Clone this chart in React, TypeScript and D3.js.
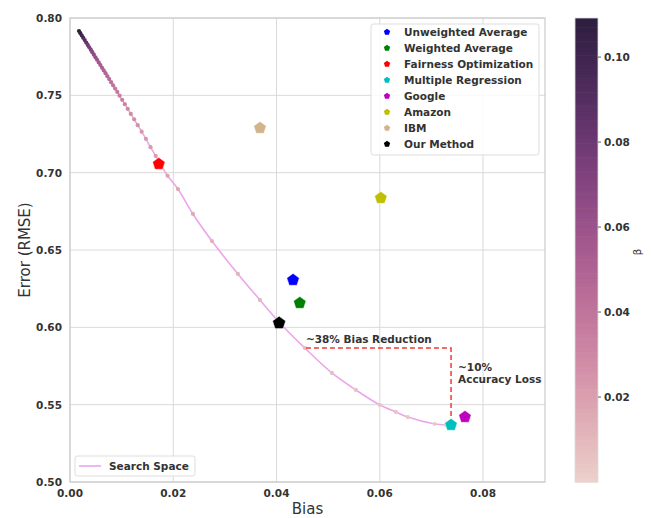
import React from "react";
import * as d3 from "d3";

const xTicks = [0.0, 0.02, 0.04, 0.06, 0.08];
const yTicks = [0.5, 0.55, 0.6, 0.65, 0.7, 0.75, 0.8];
const cbTicks = [0.02, 0.04, 0.06, 0.08, 0.1];

const methodNames = [
  "Unweighted Average",
  "Weighted Average",
  "Fairness Optimization",
  "Multiple Regression",
  "Google",
  "Amazon",
  "IBM",
  "Our Method",
];
const methodBias = [0.0432, 0.0445, 0.0172, 0.0738, 0.0765, 0.0602, 0.0368, 0.0405];
const methodError = [0.6306, 0.6157, 0.7056, 0.5369, 0.542, 0.6836, 0.7289, 0.6028];
const methodColors = ["#0000ff", "#008000", "#ff0000", "#00bfbf", "#bf00bf", "#bfbf00", "#d2b48c", "#000000"];

const ssBias = [
  0.00174, 0.002, 0.00228, 0.00256, 0.00285, 0.00314, 0.00343, 0.00372, 0.00402, 0.00432,
  0.00462, 0.00493, 0.00524, 0.00556, 0.00588, 0.00621, 0.00654, 0.00688, 0.00723, 0.00759,
  0.00796, 0.00834, 0.00874, 0.00916, 0.0096, 0.0101, 0.01062, 0.01118, 0.01178, 0.01242,
  0.01312, 0.01388, 0.0147, 0.0156, 0.0166, 0.0177, 0.0189, 0.02091, 0.02381, 0.02749,
  0.03252, 0.03678, 0.04046, 0.04549, 0.05072, 0.05536, 0.06001, 0.0631, 0.06543, 0.07065,
  0.07278,
];
const ssError = [
  0.7916, 0.7902, 0.7887, 0.7872, 0.7857, 0.7841, 0.7826, 0.7811, 0.7795, 0.7779,
  0.7763, 0.7746, 0.773, 0.7713, 0.7696, 0.7678, 0.7661, 0.7643, 0.7624, 0.7605,
  0.7585, 0.7565, 0.7544, 0.7522, 0.7498, 0.7471, 0.7443, 0.7413, 0.738, 0.7345,
  0.7307, 0.7265, 0.7219, 0.7165, 0.7108, 0.7045, 0.698, 0.6894, 0.6733, 0.6558,
  0.6345, 0.6177, 0.6035, 0.5866, 0.5705, 0.5595, 0.5498, 0.5453, 0.542, 0.5375,
  0.5369,
];
const ssBeta = [
  0.109, 0.105, 0.1, 0.095, 0.09, 0.085, 0.08, 0.076, 0.072, 0.068,
  0.065, 0.062, 0.059, 0.056, 0.054, 0.052, 0.05, 0.048, 0.046, 0.044,
  0.042, 0.04, 0.038, 0.037, 0.035, 0.033, 0.032, 0.03, 0.029, 0.027,
  0.026, 0.024, 0.023, 0.022, 0.021, 0.02, 0.019, 0.017, 0.015, 0.013,
  0.011, 0.01, 0.009, 0.008, 0.007, 0.006, 0.005, 0.0045, 0.004, 0.003,
  0.002,
];

const cmapStops = ["#edd1cb", "#dca3b0", "#c67a9d", "#a85a8f", "#7f417f", "#512c60", "#2d1e3e"];

const FONT = "'DejaVu Sans', sans-serif";
const TXT = "#333333";

function pentagon(cx: number, cy: number, r: number) {
  const pts: [number, number][] = [];
  for (let i = 0; i < 5; i++) {
    const a = -Math.PI / 2 + (i * 2 * Math.PI) / 5;
    pts.push([cx + r * Math.cos(a), cy + r * Math.sin(a)]);
  }
  return "M" + pts.map((p) => p.join(",")).join("L") + "Z";
}

export default function App() {
  const L = 70, R = 545, T = 18, B = 482;
  const x = d3.scaleLinear().domain([0, 0.092]).range([L, R]);
  const y = d3.scaleLinear().domain([0.5, 0.8]).range([B, T]);
  const cbDomain: [number, number] = [0.0, 0.1092];
  const cbY = d3.scaleLinear().domain(cbDomain).range([B, T]);
  const cInterp = d3.interpolateRgbBasis(cmapStops);
  const color = (v: number) => cInterp((v - cbDomain[0]) / (cbDomain[1] - cbDomain[0]));

  const ss = ssBias.map((b, i) => ({ b, e: ssError[i], beta: ssBeta[i] }));
  const line = d3
    .line<{ b: number; e: number }>()
    .x((d) => x(d.b))
    .y((d) => y(d.e))
    .curve(d3.curveCatmullRom);

  const cbX0 = 575, cbX1 = 598;
  const nSteps = 100;
  const steps = d3.range(nSteps).map((i) => cbDomain[0] + ((i + 0.5) * (cbDomain[1] - cbDomain[0])) / nSteps);
  const stepH = (B - T) / nSteps;

  const ourIdx = 7;
  const mrIdx = 3;
  const annY = 0.5866;

  return (
    <svg width={651} height={518} style={{ display: "block", position: "absolute", left: 0, top: 0 }}>
      <rect x={0} y={0} width={651} height={518} fill="#fff" />
      {xTicks.map((t) => (
        <line key={"gx" + t} x1={x(t)} x2={x(t)} y1={T} y2={B} stroke="#d9d9d9" strokeWidth={1} />
      ))}
      {yTicks.map((t) => (
        <line key={"gy" + t} x1={L} x2={R} y1={y(t)} y2={y(t)} stroke="#d9d9d9" strokeWidth={1} />
      ))}
      <rect x={L} y={T} width={R - L} height={B - T} fill="none" stroke="#cccccc" strokeWidth={1.2} />

      <path d={line(ss) || ""} fill="none" stroke="#eba6ea" strokeWidth={1.6} />
      {ss.map((d, i) => (
        <circle key={"ss" + i} cx={x(d.b)} cy={y(d.e)} r={2.1} fill={color(d.beta)} />
      ))}

      <path
        d={`M${x(0.0457)},${y(annY)}L${x(methodBias[mrIdx])},${y(annY)}L${x(methodBias[mrIdx])},${y(methodError[mrIdx])}`}
        fill="none"
        stroke="#f03a3a"
        strokeWidth={1.5}
        strokeDasharray="5,3"
      />

      {methodNames.map((n, i) => (
        <path
          key={"m" + n}
          d={pentagon(x(methodBias[i]), y(methodError[i]), i === ourIdx ? 6.8 : 6.5)}
          fill={methodColors[i]}
          stroke="#ffffff"
          strokeWidth={0.4}
        />
      ))}

      <text x={x(0.0457)} y={y(annY) - 5} fontFamily={FONT} fontSize={10.5} fontWeight="bold" fill={TXT}>
        ~38% Bias Reduction
      </text>
      <text x={x(methodBias[mrIdx]) + 7} y={y(0.5715)} fontFamily={FONT} fontSize={10.5} fontWeight="bold" fill={TXT}>
        ~10%
      </text>
      <text x={x(methodBias[mrIdx]) + 7} y={y(0.5637)} fontFamily={FONT} fontSize={10.5} fontWeight="bold" fill={TXT}>
        Accuracy Loss
      </text>

      {xTicks.map((t) => (
        <text key={"tx" + t} x={x(t)} y={B + 15} textAnchor="middle" fontFamily={FONT} fontSize={10.5} fontWeight="bold" fill={TXT}>
          {t.toFixed(2)}
        </text>
      ))}
      {yTicks.map((t) => (
        <text key={"ty" + t} x={L - 8} y={y(t) + 4} textAnchor="end" fontFamily={FONT} fontSize={10.5} fontWeight="bold" fill={TXT}>
          {t.toFixed(2)}
        </text>
      ))}
      <text x={(L + R) / 2} y={514} textAnchor="middle" fontFamily={FONT} fontSize={15} fill={TXT}>
        Bias
      </text>
      <text
        transform={`translate(30,${(T + B) / 2}) rotate(-90)`}
        textAnchor="middle"
        fontFamily={FONT}
        fontSize={15}
        fill={TXT}
      >
        Error (RMSE)
      </text>

      <rect x={371} y={24} width={168} height={131} rx={2.5} fill="#ffffff" fillOpacity={0.85} stroke="#dddddd" strokeWidth={1} />
      {methodNames.map((n, i) => (
        <g key={"lg" + n}>
          <path d={pentagon(387, 32 + i * 16, 3.3)} fill={methodColors[i]} />
          <text x={404} y={36 + i * 16} fontFamily={FONT} fontSize={10.5} fontWeight="bold" fill={TXT}>
            {n}
          </text>
        </g>
      ))}

      <rect x={75} y={456} width={120} height={20} rx={2.5} fill="#ffffff" fillOpacity={0.85} stroke="#dddddd" strokeWidth={1} />
      <line x1={79} x2={101} y1={466} y2={466} stroke="#eba6ea" strokeWidth={1.6} />
      <text x={109} y={470} fontFamily={FONT} fontSize={10.5} fontWeight="bold" fill={TXT}>
        Search Space
      </text>

      {steps.map((v, i) => (
        <rect key={"cb" + i} x={cbX0} y={B - (i + 1) * stepH} width={cbX1 - cbX0} height={stepH + 0.6} fill={color(v)} />
      ))}
      <rect x={cbX0} y={T} width={cbX1 - cbX0} height={B - T} fill="none" stroke="#dddddd" strokeWidth={0.8} />
      {cbTicks.map((t) => (
        <g key={"cbt" + t}>
          <line x1={cbX1} x2={cbX1 + 3} y1={cbY(t)} y2={cbY(t)} stroke={TXT} strokeWidth={0.8} />
          <text x={cbX1 + 6} y={cbY(t) + 4} fontFamily={FONT} fontSize={10.5} fontWeight="bold" fill={TXT}>
            {t.toFixed(2)}
          </text>
        </g>
      ))}
      <text transform={`translate(641,${(T + B) / 2 + 2}) rotate(-90)`} textAnchor="middle" fontFamily={FONT} fontSize={10} fill={TXT}>
        β
      </text>
    </svg>
  );
}
